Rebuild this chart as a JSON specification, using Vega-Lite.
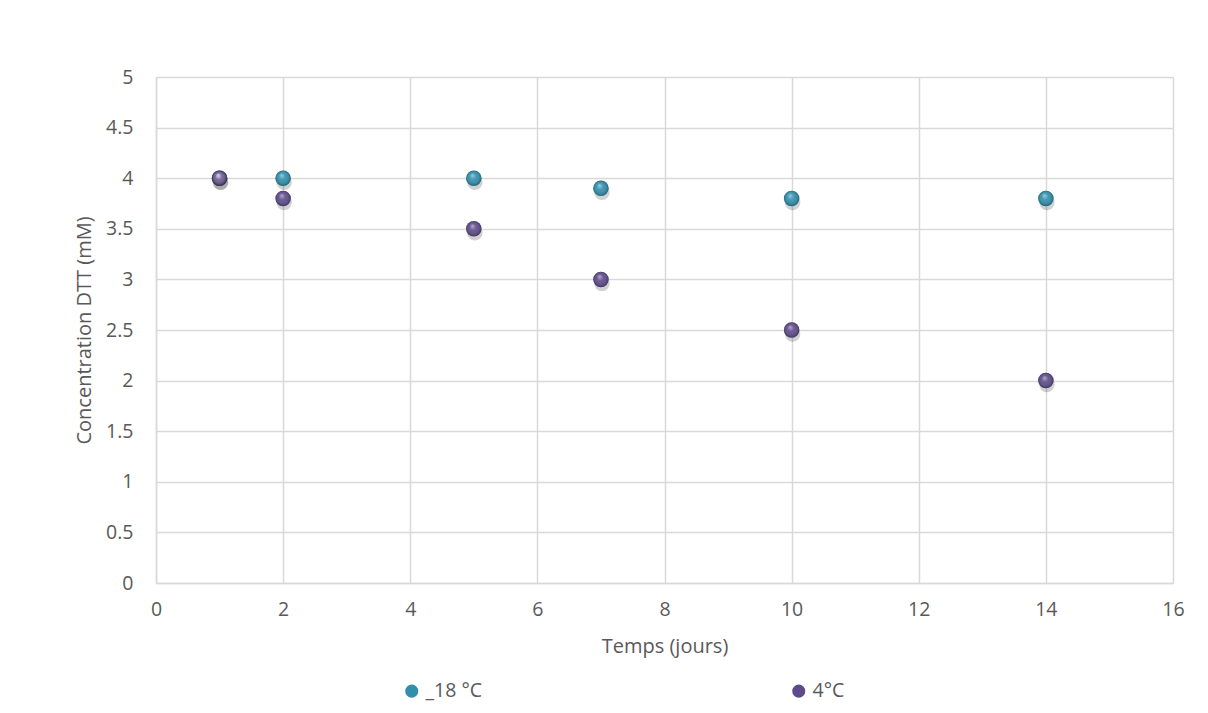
{
  "$schema": "https://vega.github.io/schema/vega-lite/v6.json",
  "width": 1017,
  "height": 506,
  "autosize": {"type": "none"},
  "padding": {"left": 156, "top": 77, "right": 35, "bottom": 130},
  "background": "white",
  "config": {
    "font": "Open Sans",
    "view": {"stroke": null},
    "axis": {
      "labelFont": "Open Sans",
      "titleFont": "Open Sans",
      "labelFontSize": 19.5,
      "titleFontSize": 20,
      "titleFontWeight": "normal",
      "labelColor": "#595959",
      "titleColor": "#595959",
      "gridColor": "#d9d9d9",
      "gridWidth": 1.5,
      "domainColor": "#d9d9d9",
      "domainWidth": 1.5,
      "ticks": false,
      "labelFlush": false
    }
  },
  "data": {
    "values": [
      {"jour": 1, "conc": 4.0, "serie": "_18 °C"},
      {"jour": 2, "conc": 4.0, "serie": "_18 °C"},
      {"jour": 5, "conc": 4.0, "serie": "_18 °C"},
      {"jour": 7, "conc": 3.9, "serie": "_18 °C"},
      {"jour": 10, "conc": 3.8, "serie": "_18 °C"},
      {"jour": 14, "conc": 3.8, "serie": "_18 °C"},
      {"jour": 1, "conc": 4.0, "serie": "4°C"},
      {"jour": 2, "conc": 3.8, "serie": "4°C"},
      {"jour": 5, "conc": 3.5, "serie": "4°C"},
      {"jour": 7, "conc": 3.0, "serie": "4°C"},
      {"jour": 10, "conc": 2.5, "serie": "4°C"},
      {"jour": 14, "conc": 2.0, "serie": "4°C"}
    ]
  },
  "encoding": {
    "x": {
      "field": "jour", "type": "quantitative",
      "scale": {"domain": [0, 16], "nice": false},
      "axis": {"values": [0, 2, 4, 6, 8, 10, 12, 14, 16], "title": "Temps (jours)", "labelPadding": 17, "titlePadding": 18}
    },
    "y": {
      "field": "conc", "type": "quantitative",
      "scale": {"domain": [0, 5], "nice": false},
      "axis": {"values": [0, 0.5, 1, 1.5, 2, 2.5, 3, 3.5, 4, 4.5, 5], "format": "~g", "title": "Concentration DTT (mM)", "labelPadding": 23, "titlePadding": 11}
    },
    "order": {"field": "serie", "sort": "descending"}
  },
  "layer": [
    {
      "mark": {"type": "point", "filled": true, "size": 240, "color": "#000000", "opacity": 0.18, "yOffset": 4, "xOffset": 1}
    },
    {
      "mark": {"type": "point", "filled": true, "size": 240, "opacity": 1},
      "encoding": {
        "color": {
          "field": "serie", "type": "nominal",
          "scale": {"domain": ["_18 °C", "4°C"], "range": ["#2f8fad", "#5d4a8a"]},
          "legend": {
            "title": null,
            "orient": "none",
            "legendX": 246,
            "legendY": 604,
            "direction": "horizontal",
            "columns": 2,
            "columnPadding": 306,
            "labelFontSize": 19.5,
            "labelOffset": 4,
            "labelColor": "#595959",
            "labelFont": "Open Sans",
            "symbolSize": 170,
            "symbolStrokeWidth": 0
          }
        }
      }
    },
    {
      "mark": {
        "type": "point", "filled": true, "size": 240, "opacity": 1,
        "fill": {
          "gradient": "radial",
          "x1": 0.4, "y1": 0.3, "r1": 0,
          "x2": 0.5, "y2": 0.5, "r2": 0.5,
          "stops": [
            {"offset": 0, "color": "rgba(255,255,255,0.55)"},
            {"offset": 0.45, "color": "rgba(255,255,255,0.08)"},
            {"offset": 1, "color": "rgba(0,0,0,0.3)"}
          ]
        }
      }
    }
  ]
}
